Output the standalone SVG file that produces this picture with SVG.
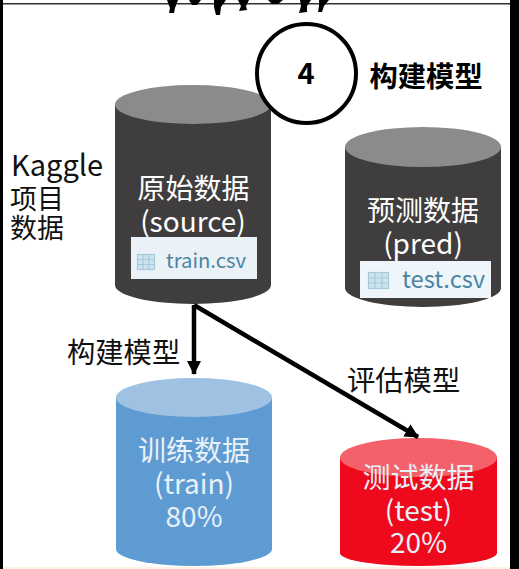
<svg xmlns="http://www.w3.org/2000/svg" width="519" height="569" viewBox="0 0 519 569">
<style>
text{font-family:"Noto Sans CJK SC","Noto Sans",sans-serif;font-weight:400}
.l{font-size:27px;fill:#111}
.m{font-size:28.300px;fill:#111}
.w{font-size:28px;fill:#fff;text-anchor:middle}
.wb{font-size:28px;fill:#e8f1f8;text-anchor:middle}
.f{fill:#4d84a3}
.g{stroke:#a3cbdc;stroke-width:1.2;fill:#cfe3ec}
.b{font-weight:700;fill:#000}
</style>
<defs>
<marker id="ah" markerWidth="14" markerHeight="14" refX="13" refY="7" orient="auto" markerUnits="userSpaceOnUse"><path d="M0 0L14 7L0 14Z" fill="#000"/></marker>
</defs>
<rect width="519" height="569" fill="#fff"/>
<rect x="0" y="0" width="3" height="569" fill="#000"/>
<rect x="510" y="0" width="9" height="569" fill="#000"/>
<rect x="3" y="3" width="507" height="1.500" fill="#333"/>
<rect x="3" y="567" width="507" height="2" fill="#fbf4e2"/>
<g id="birds" fill="#000">
<path d="M167 0H178L175 8L174 13H169L170 8Z"/>
<path d="M189 0H201L197 5H192Z"/>
<path d="M214 0H226L221 7L220 15L216 15L214 7Z"/>
<path d="M238 0H249L246 6L247 10L239 11L241 6Z"/>
<path d="M268 0H283L278 4H272Z"/>
<path d="M300 0H311L307 6L307 12L299 13L301 6Z"/>
<path d="M319 0H329L324 6L322 12L318 12L319 6Z"/>
</g>
<g id="source">
<path d="M115 104.500V285A78 19 0 0 0 271 285V104.500Z" fill="#3f3d3e"/>
<ellipse cx="193" cy="104.500" rx="78" ry="19.500" fill="#8c8a8b"/>
<text class="w" x="193.500" y="199">原始数据</text>
<text class="w" x="193" y="232">(source)</text>
<rect x="131" y="237" width="126" height="42" fill="#eaf1f7"/>
<g class="g"><rect x="137.500" y="254.500" width="17" height="15"/><path d="M137.500 259.500H154.500M137.500 264.500H154.500M143 254.500V269.500M149 254.500V269.500" fill="none"/></g>
<text class="f" x="166" y="268" font-size="20.300">train.csv</text>
</g>
<g id="pred">
<path d="M345 147V288A78 19 0 0 0 501 288V147Z" fill="#3f3d3e"/>
<ellipse cx="423" cy="147" rx="78" ry="20" fill="#8c8a8b"/>
<text class="w" x="423" y="221">预测数据</text>
<text class="w" x="423" y="254">(pred)</text>
<rect x="360" y="261" width="131" height="37" fill="#eef5fb"/>
<g class="g"><rect x="368.500" y="272.500" width="20" height="16"/><path d="M368.500 278H388.500M368.500 283H388.500M375 272.500V288.500M382 272.500V288.500" fill="none"/></g>
<text class="f" x="402" y="288" font-size="23.700">test.csv</text>
</g>
<g id="train">
<path d="M116 397.500V549A78 17 0 0 0 272 549V397.500Z" fill="#5f9bd3"/>
<ellipse cx="194" cy="397.500" rx="78" ry="19.500" fill="#9fc2e3"/>
<text class="wb" x="194" y="461">训练数据</text>
<text class="wb" x="194" y="494">(train)</text>
<text class="wb" x="194" y="527">80%</text>
</g>
<g id="test">
<path d="M340 457.500V553A78.500 13 0 0 0 497 553V457.500Z" fill="#ee0a1c"/>
<ellipse cx="418.500" cy="457.500" rx="78.500" ry="19.500" fill="#f4616b"/>
<text class="wb" x="418.500" y="488">测试数据</text>
<text class="wb" x="418.500" y="521">(test)</text>
<text class="wb" x="418.500" y="553">20%</text>
</g>
<g id="step">
<circle cx="306.500" cy="73.500" r="49.500" fill="#fff" stroke="#000" stroke-width="4"/>
<text class="b" x="306" y="84" font-size="29" text-anchor="middle">4</text>
</g>
<g id="connectors" fill="none" stroke="#000" stroke-width="4.500">
<path d="M194 305V374" marker-end="url(#ah)"/>
<path d="M194 305L418 437" marker-end="url(#ah)"/>
</g>
<g id="labels">
<text class="b" x="369.500" y="87" font-size="28.300">构建模型</text>
<text x="11" y="176" font-size="29" fill="#111">Kaggle</text>
<text class="l" x="10" y="209">项目</text>
<text class="l" x="10" y="238">数据</text>
<text class="m" x="67" y="363">构建模型</text>
<text class="m" x="347" y="391">评估模型</text>
</g>
</svg>
